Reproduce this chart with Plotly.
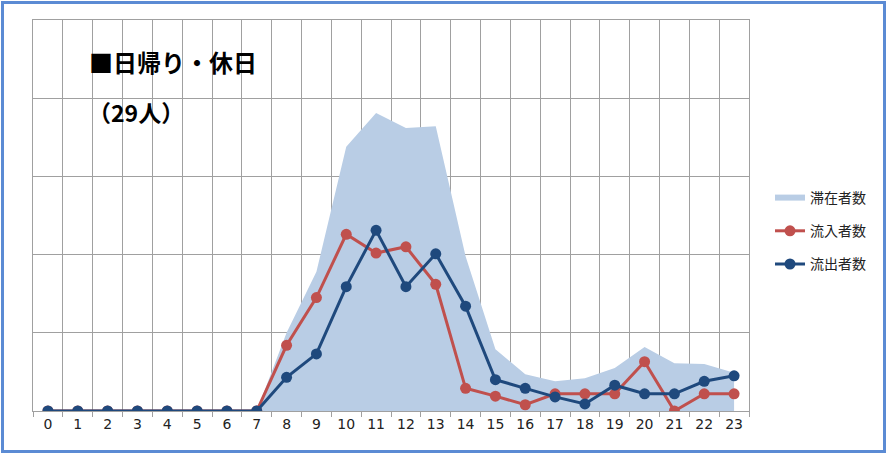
import plotly.graph_objects as go

hours = list(range(24))
hour_labels = [str(h) for h in hours]
stay = [0, 0, 0, 0, 0, 0, 0, 0, 10.0, 17.8, 33.8, 38.1, 36.2, 36.4, 19.8, 7.9, 4.7, 3.8, 4.2, 5.5, 8.2, 6.1, 6.0, 4.9]
inflow = [0, 0, 0, 0, 0, 0, 0, 0, 8.4, 14.5, 22.6, 20.2, 21.0, 16.2, 2.9, 1.9, 0.8, 2.2, 2.2, 2.2, 6.3, 0, 2.2, 2.2]
outflow = [0, 0, 0, 0, 0, 0, 0, 0, 4.3, 7.3, 15.9, 23.1, 15.9, 20.1, 13.4, 4.0, 2.9, 1.8, 0.9, 3.3, 2.2, 2.2, 3.8, 4.5]
series_names = ["滞在者数", "流入者数", "流出者数"]
title_text = "■日帰り・休日"
sub_text = "（29人）"

CJK = "Noto Sans CJK JP, DejaVu Sans, sans-serif"
grid = "#a0a0a0"

fig = go.Figure()
fig.add_trace(go.Scatter(x=hours, y=stay, name=series_names[0], mode="none",
                         fill="tozeroy", fillcolor="#b9cde5", legendgroup="a"))
fig.add_trace(go.Scatter(x=hours, y=inflow, name=series_names[1], mode="lines+markers",
                         line=dict(color="#c0504d", width=3),
                         marker=dict(color="#c0504d", size=11), legendgroup="b"))
fig.add_trace(go.Scatter(x=hours, y=outflow, name=series_names[2], mode="lines+markers",
                         line=dict(color="#1f497d", width=3),
                         marker=dict(color="#1f497d", size=11), legendgroup="c"))

L, R, T, B = 33, 139, 20, 44
W, H = 888, 455
pw, ph = W - L - R, H - T - B

def px(x):
    return (x - L) / pw

def py(y):
    return (H - B - y) / ph

fig.update_layout(
    width=W, height=H,
    margin=dict(l=L, r=R, t=T, b=B),
    paper_bgcolor="white", plot_bgcolor="white",
    showlegend=True,
    legend=dict(x=px(770), y=py(182), xanchor="left", yanchor="top",
                font=dict(family=CJK, size=14, color="#222"),
                tracegroupgap=12, bgcolor="rgba(0,0,0,0)"),
    xaxis=dict(range=[-0.5, 23.5], tickvals=hours, ticktext=hour_labels,
               showgrid=False, ticks="", zeroline=False,
               tickfont=dict(family="DejaVu Sans, Verdana, sans-serif", size=14, color="#222"),
               showline=True, linecolor=grid, linewidth=1, mirror=True,
               minor=dict(tickvals=[h - 0.5 for h in hours] + [23.5], showgrid=True,
                          gridcolor=grid, gridwidth=1, ticks="outside", ticklen=5,
                          tickcolor=grid)),
    yaxis=dict(range=[0, 50], dtick=10, showticklabels=False, showgrid=True,
               gridcolor=grid, gridwidth=1, zeroline=False,
               showline=True, linecolor=grid, linewidth=1, mirror=True, ticks=""),
    annotations=[
        dict(x=px(87), y=py(62), xref="paper", yref="paper", xanchor="left", yanchor="middle",
             text="<b>" + title_text + "</b>", showarrow=False,
             font=dict(family=CJK, size=24, color="black")),
        dict(x=px(86), y=py(112), xref="paper", yref="paper", xanchor="left", yanchor="middle",
             text="<b>" + sub_text + "</b>", showarrow=False,
             font=dict(family=CJK, size=23, color="black")),
    ],
    shapes=[
        dict(type="rect", xref="paper", yref="paper",
             x0=px(2.5), x1=px(884.5), y0=py(2.5), y1=py(451.5),
             line=dict(color="#5b8bd4", width=3), fillcolor="rgba(0,0,0,0)", layer="above"),
    ],
)

fig.write_html("out.html", config={"displayModeBar": False},
               post_script="document.body.style.margin='0';document.body.style.overflow='hidden';")
